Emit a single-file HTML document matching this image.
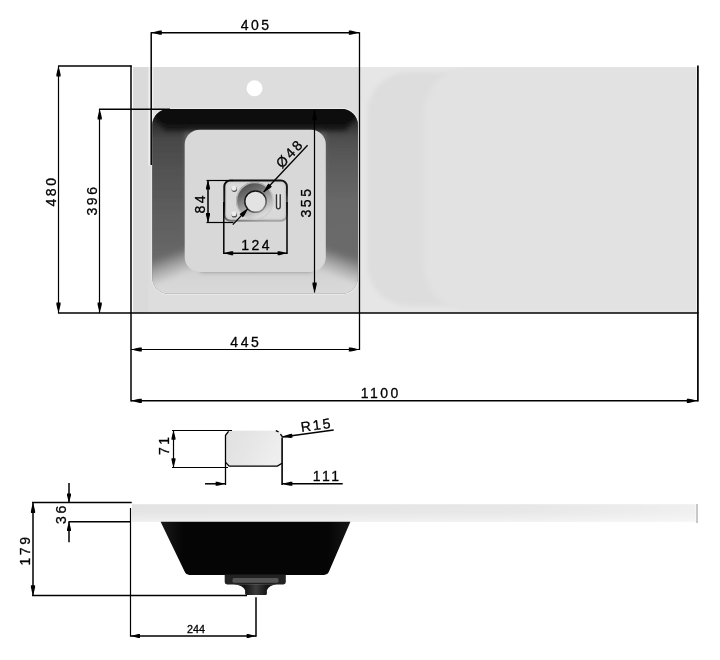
<!DOCTYPE html>
<html><head><meta charset="utf-8"><title>drawing</title>
<style>
html,body{margin:0;padding:0;background:#fff;}
body{width:720px;height:660px;overflow:hidden;font-family:"Liberation Sans",sans-serif;}
svg{display:block;}
svg text{font-family:"Liberation Sans",sans-serif;fill:#000;stroke:#000;stroke-width:0.3px;}
</style></head><body>
<svg width="720" height="660" viewBox="0 0 720 660">
<defs>
<linearGradient id="gTop" x1="0" y1="0" x2="0" y2="1"><stop offset="0" stop-color="#040404"/><stop offset="1" stop-color="#141414"/></linearGradient>
<linearGradient id="gLeft" gradientUnits="userSpaceOnUse" x1="0" y1="110" x2="0" y2="294"><stop offset="0" stop-color="#121212"/><stop offset="0.08" stop-color="#2e2e2e"/><stop offset="0.16" stop-color="#484848"/><stop offset="0.31" stop-color="#515151"/><stop offset="0.45" stop-color="#585858"/><stop offset="0.8" stop-color="#686868"/><stop offset="1" stop-color="#6c6c6c"/></linearGradient>
<linearGradient id="gRight" gradientUnits="userSpaceOnUse" x1="0" y1="110" x2="0" y2="294"><stop offset="0" stop-color="#141414"/><stop offset="0.08" stop-color="#323232"/><stop offset="0.15" stop-color="#4e4e4e"/><stop offset="0.25" stop-color="#585858"/><stop offset="0.5" stop-color="#686868"/><stop offset="1" stop-color="#6e6e6e"/></linearGradient>
<linearGradient id="gBot" x1="0" y1="0" x2="0" y2="1"><stop offset="0" stop-color="#d2d2d2"/><stop offset="1" stop-color="#e2e2e2"/></linearGradient>
<linearGradient id="gSlabL" x1="0" y1="0" x2="1" y2="0"><stop offset="0" stop-color="#d9d9d9"/><stop offset="1" stop-color="#e1e1e1"/></linearGradient>
<linearGradient id="gSide" x1="0" y1="0" x2="1" y2="0"><stop offset="0" stop-color="#e3e3e3"/><stop offset="0.7" stop-color="#e7e7e7"/><stop offset="1" stop-color="#efefef"/></linearGradient>
<linearGradient id="gBasin" x1="0" y1="0" x2="1" y2="0"><stop offset="0" stop-color="#1a1a1a"/><stop offset="0.12" stop-color="#050505"/><stop offset="0.88" stop-color="#050505"/><stop offset="1" stop-color="#161616"/></linearGradient>
<linearGradient id="gRing" x1="0.25" y1="0" x2="0.75" y2="1"><stop offset="0" stop-color="#484848"/><stop offset="0.3" stop-color="#707070"/><stop offset="0.6" stop-color="#aaaaaa"/><stop offset="0.85" stop-color="#d6d6d6"/><stop offset="1" stop-color="#e6e6e6"/></linearGradient>
<linearGradient id="gHoleS" x1="0.15" y1="0" x2="0.85" y2="1"><stop offset="0" stop-color="#0c0c0c"/><stop offset="0.55" stop-color="#2a2a2a"/><stop offset="1" stop-color="#a0a0a0"/></linearGradient>
<linearGradient id="gPlateS" x1="0.35" y1="0" x2="0.65" y2="1"><stop offset="0" stop-color="#0c0c0c"/><stop offset="0.45" stop-color="#1e1e1e"/><stop offset="0.8" stop-color="#6a6a6a"/><stop offset="1" stop-color="#a4a4a4"/></linearGradient>
<linearGradient id="gFadeL" gradientUnits="userSpaceOnUse" x1="167" y1="254" x2="176" y2="279"><stop offset="0" stop-color="#d8d8d8" stop-opacity="0"/><stop offset="0.5" stop-color="#d8d8d8" stop-opacity="0.55"/><stop offset="1" stop-color="#d8d8d8" stop-opacity="1"/></linearGradient>
<linearGradient id="gFadeR" gradientUnits="userSpaceOnUse" x1="344" y1="254" x2="335" y2="279"><stop offset="0" stop-color="#dadada" stop-opacity="0"/><stop offset="0.5" stop-color="#dadada" stop-opacity="0.55"/><stop offset="1" stop-color="#dadada" stop-opacity="1"/></linearGradient>
<linearGradient id="gNeck" gradientUnits="userSpaceOnUse" x1="245" y1="0" x2="267" y2="0"><stop offset="0" stop-color="#141414"/><stop offset="0.5" stop-color="#3c3c3c"/><stop offset="1" stop-color="#141414"/></linearGradient>
<linearGradient id="gSmall" x1="0" y1="0" x2="1" y2="0.3"><stop offset="0" stop-color="#e0e0e0"/><stop offset="0.5" stop-color="#e6e6e6"/><stop offset="1" stop-color="#eeeeee"/></linearGradient>
<linearGradient id="gSideV" x1="0" y1="0" x2="0" y2="1"><stop offset="0" stop-color="#fff" stop-opacity="0"/><stop offset="0.45" stop-color="#fff" stop-opacity="0.05"/><stop offset="1" stop-color="#fff" stop-opacity="0.45"/></linearGradient>
<clipPath id="cSlabR"><rect x="360" y="67" width="336.2" height="245.6"/></clipPath>
<clipPath id="cOuter"><rect x="152.3" y="109" width="205.6" height="184.8" rx="16" ry="16"/></clipPath>
<filter id="blur" x="-10%" y="-10%" width="120%" height="120%"><feGaussianBlur stdDeviation="2.6"/></filter>
</defs>
<rect width="720" height="660" fill="#fff"/>
<!-- TOP VIEW slab -->
<rect x="133.2" y="67" width="563" height="245.6" fill="#dddddd"/>
<rect x="360" y="67" width="336.2" height="245.6" fill="#e6e6e6"/>
<g clip-path="url(#cSlabR)">
<rect x="367" y="72" width="340" height="234" rx="42" fill="#dddddd" filter="url(#blur)"/>
<path d="M472 66 H705 V312 H472 A48 48 0 0 1 424 264 V114 A48 48 0 0 1 472 66 Z" fill="#e2e2e2" filter="url(#blur)"/>
</g>
<rect x="133.2" y="67" width="15" height="245.6" fill="#dadada"/>
<rect x="148.4" y="67" width="5" height="98.5" fill="#efefef"/>
<!-- tap hole -->
<circle cx="254.5" cy="88.3" r="8" fill="#fff"/>
<!-- basin -->
<rect x="151.3" y="108" width="207.8" height="186.8" rx="17" fill="#ebebeb"/>
<g clip-path="url(#cOuter)">
 <rect x="140" y="100" width="240" height="210" fill="#666"/>
 <g filter="url(#blur)">
  <polygon points="130,330 130,80 185,130 185,271" fill="url(#gLeft)"/>
  <polygon points="380,330 380,80 325.5,130 325.5,271" fill="url(#gRight)"/>
  <polygon points="130,330 130,200 200,200 200,330" fill="url(#gFadeL)"/>
  <polygon points="380,330 380,200 312,200 312,330" fill="url(#gFadeR)"/>
  <polygon points="130,90 380,90 346,131.5 165,131.5" fill="url(#gTop)"/>
  <polygon points="118,320 392,320 326,271 185,271" fill="url(#gBot)"/>
 </g>
</g>
<rect x="184.7" y="129.7" width="141.1" height="142.3" rx="15" fill="#d8d8d8"/>
<!-- drain plate -->
<rect x="224.3" y="180.5" width="62.6" height="40.3" rx="6" fill="#d3d3d3" stroke="url(#gPlateS)" stroke-width="2"/>
<rect x="227" y="183.4" width="57.2" height="34.6" rx="4.5" fill="#d9d9d9"/>
<circle cx="254.8" cy="200.9" r="18.8" fill="url(#gRing)"/>
<circle cx="254.8" cy="200.9" r="18.2" fill="none" stroke="#c9c9c9" stroke-width="1.2" opacity="0.8"/>
<circle cx="255.5" cy="201.6" r="10.7" fill="#e3e3e3" stroke="url(#gHoleS)" stroke-width="1.5"/>
<circle cx="234.3" cy="189.3" r="2.7" fill="#505050"/><circle cx="233.9" cy="188.2" r="2.5" fill="#ececec"/>
<circle cx="234.3" cy="214.9" r="2.7" fill="#505050"/><circle cx="233.9" cy="213.8" r="2.5" fill="#ececec"/>
<path d="M276.5 194.3 L276.5 206.6 Q276.5 208.9 278.3 208.9 Q280.2 208.9 280.2 206.6 L280.2 194.3" fill="#ececec" stroke="#333" stroke-width="1.4"/>
<!-- small detail rect -->
<rect x="225.4" y="430.2" width="57" height="36.6" rx="5" fill="#f4f4f4"/>
<rect x="226.2" y="431.1" width="55.2" height="34.8" rx="4.5" fill="url(#gSmall)"/>
<path d="M225.6 435.2 L228.6 431.3 M225.6 462.4 L229.2 466.1 L277.4 466.1 L282 463.2 M275.8 430.6 L278.6 431.8 M280.4 434.2 L282.6 437" fill="none" stroke="#000" stroke-width="1.3"/>
<!-- SIDE VIEW -->
<rect x="132" y="504.2" width="563.6" height="17.6" fill="url(#gSide)"/>
<rect x="132" y="504.2" width="563.6" height="17.6" fill="url(#gSideV)"/>
<line x1="697" y1="504" x2="697" y2="523" stroke="#777" stroke-width="0.8"/>
<path d="M160.6 521.8 L350.4 521.8 L329 571.6 Q327.6 574.9 324 574.9 L189.4 574.9 Q186 574.9 184.6 571.6 Z" fill="url(#gBasin)"/>
<path d="M224.7 574.6 H285.8 V582 Q285.8 584.4 283.4 584.4 H227.1 Q224.7 584.4 224.7 582 Z" fill="#222"/>
<rect x="232.5" y="578" width="46" height="4.8" rx="1.5" fill="#555"/>
<path d="M233.5 584.2 Q243.2 585.2 245.1 590.2 V593.4 Q245.1 595 246.7 595 H265.3 Q266.9 595 266.9 593.4 V590.2 Q268.8 585.2 277 584.2 Z" fill="url(#gNeck)"/>
<!-- dimension lines -->
<g stroke="#000" fill="none" stroke-linecap="butt">
<line x1="131.00" y1="65.40" x2="131.00" y2="401.40" stroke-width="1.50"/>
<line x1="697.90" y1="65.60" x2="697.90" y2="401.40" stroke-width="1.70"/>
<line x1="58.00" y1="313.00" x2="698.50" y2="313.00" stroke-width="1.60"/>
<line x1="58.00" y1="66.00" x2="131.70" y2="66.00" stroke-width="1.50"/>
<line x1="58.50" y1="66.00" x2="58.50" y2="313.00" stroke-width="1.20"/>
<line x1="99.00" y1="109.20" x2="170.00" y2="109.20" stroke-width="1.50"/>
<line x1="99.50" y1="109.00" x2="99.50" y2="313.00" stroke-width="1.20"/>
<line x1="151.20" y1="32.30" x2="151.20" y2="165.00" stroke-width="1.50"/>
<line x1="359.50" y1="32.30" x2="359.50" y2="350.00" stroke-width="1.30"/>
<line x1="151.00" y1="32.80" x2="359.30" y2="32.80" stroke-width="1.50"/>
<line x1="131.00" y1="349.50" x2="359.30" y2="349.50" stroke-width="1.20"/>
<line x1="131.00" y1="400.80" x2="698.00" y2="400.80" stroke-width="1.50"/>
<line x1="314.50" y1="110.00" x2="314.50" y2="292.50" stroke-width="1.20"/>
<line x1="208.00" y1="180.30" x2="208.00" y2="222.40" stroke-width="1.50"/>
<line x1="206.50" y1="180.50" x2="233.00" y2="180.50" stroke-width="1.20"/>
<line x1="206.50" y1="222.50" x2="233.50" y2="222.50" stroke-width="1.20"/>
<line x1="223.80" y1="202.00" x2="223.80" y2="254.00" stroke-width="1.50"/>
<line x1="287.00" y1="202.00" x2="287.00" y2="254.00" stroke-width="1.50"/>
<line x1="223.80" y1="253.20" x2="287.00" y2="253.20" stroke-width="1.50"/>
<line x1="173.50" y1="430.40" x2="173.50" y2="467.60" stroke-width="1.20"/>
<line x1="172.00" y1="430.50" x2="232.00" y2="430.50" stroke-width="1.10"/>
<line x1="172.00" y1="467.50" x2="228.00" y2="467.50" stroke-width="1.10"/>
<line x1="225.50" y1="434.80" x2="225.50" y2="485.00" stroke-width="1.30"/>
<line x1="282.10" y1="437.50" x2="282.10" y2="485.00" stroke-width="1.60"/>
<line x1="205.00" y1="483.80" x2="225.00" y2="483.80" stroke-width="1.50"/>
<line x1="282.00" y1="483.80" x2="342.70" y2="483.80" stroke-width="1.50"/>
<line x1="282.40" y1="437.00" x2="333.70" y2="430.00" stroke-width="1.30"/>
<line x1="32.00" y1="502.50" x2="131.70" y2="502.50" stroke-width="1.30"/>
<line x1="32.00" y1="595.50" x2="247.00" y2="595.50" stroke-width="1.30"/>
<line x1="33.00" y1="502.70" x2="33.00" y2="595.50" stroke-width="1.50"/>
<line x1="69.00" y1="483.00" x2="69.00" y2="502.70" stroke-width="1.50"/>
<line x1="69.00" y1="521.80" x2="69.00" y2="542.30" stroke-width="1.50"/>
<line x1="68.50" y1="521.80" x2="131.00" y2="521.80" stroke-width="1.50"/>
<line x1="130.50" y1="508.00" x2="130.50" y2="636.70" stroke-width="1.20"/>
<line x1="256.00" y1="597.20" x2="256.00" y2="636.70" stroke-width="1.50"/>
<line x1="130.60" y1="636.00" x2="256.00" y2="636.00" stroke-width="1.50"/>
<line x1="232.80" y1="224.60" x2="247.74" y2="208.84" stroke-width="1.30"/>
<line x1="263.66" y1="191.96" x2="307.60" y2="145.30" stroke-width="1.30"/>
</g>
<g fill="#000" stroke="none">
<polygon points="58.5,66.5 59.7,70.5 60.6,74.5 60.6,76.5 56.4,76.5 56.4,74.5 57.3,70.5"/>
<polygon points="58.5,312.5 57.3,308.5 56.4,304.5 56.4,302.5 60.6,302.5 60.6,304.5 59.7,308.5"/>
<polygon points="99.7,109.5 100.9,113.5 101.8,117.5 101.8,119.5 97.6,119.5 97.6,117.5 98.5,113.5"/>
<polygon points="99.7,312.5 98.5,308.5 97.6,304.5 97.6,302.5 101.8,302.5 101.8,304.5 100.9,308.5"/>
<polygon points="151.8,32.6 155.8,31.4 159.8,30.5 161.8,30.5 161.8,34.7 159.8,34.7 155.8,33.8"/>
<polygon points="358.8,32.6 354.8,33.8 350.8,34.7 348.8,34.7 348.8,30.5 350.8,30.5 354.8,31.4"/>
<polygon points="131.8,349.5 135.8,348.3 139.8,347.4 141.8,347.4 141.8,351.6 139.8,351.6 135.8,350.7"/>
<polygon points="358.8,349.5 354.8,350.7 350.8,351.6 348.8,351.6 348.8,347.4 350.8,347.4 354.8,348.3"/>
<polygon points="131.8,400.8 135.8,399.6 139.8,398.7 141.8,398.7 141.8,402.9 139.8,402.9 135.8,402.0"/>
<polygon points="696.8,400.8 692.8,402.0 688.8,402.9 686.8,402.9 686.8,398.7 688.8,398.7 692.8,399.6"/>
<polygon points="314.6,110.3 315.8,114.3 316.7,118.3 316.7,120.3 312.5,120.3 312.5,118.3 313.4,114.3"/>
<polygon points="314.6,292.5 313.4,288.5 312.5,284.5 312.5,282.5 316.7,282.5 316.7,284.5 315.8,288.5"/>
<polygon points="208.0,180.6 209.1,184.2 210.0,187.8 210.0,189.6 206.0,189.6 206.0,187.8 206.9,184.2"/>
<polygon points="208.0,222.1 206.9,218.5 206.0,214.9 206.0,213.1 210.0,213.1 210.0,214.9 209.1,218.5"/>
<polygon points="224.2,253.2 227.8,252.1 231.4,251.2 233.2,251.2 233.2,255.2 231.4,255.2 227.8,254.3"/>
<polygon points="286.6,253.2 283.0,254.3 279.4,255.2 277.6,255.2 277.6,251.2 279.4,251.2 283.0,252.1"/>
<polygon points="173.5,430.7 174.6,434.3 175.5,437.9 175.5,439.7 171.5,439.7 171.5,437.9 172.4,434.3"/>
<polygon points="173.5,467.3 172.4,463.7 171.5,460.1 171.5,458.3 175.5,458.3 175.5,460.1 174.6,463.7"/>
<polygon points="224.6,483.8 221.0,484.9 217.4,485.8 215.6,485.8 215.6,481.8 217.4,481.8 221.0,482.7"/>
<polygon points="282.4,483.8 286.4,482.7 290.4,481.8 292.4,481.8 292.4,485.8 290.4,485.8 286.4,484.9"/>
<polygon points="33.0,503.0 34.2,507.0 35.1,511.0 35.1,513.0 30.9,513.0 30.9,511.0 31.8,507.0"/>
<polygon points="33.0,595.2 31.8,591.2 30.9,587.2 30.9,585.2 35.1,585.2 35.1,587.2 34.2,591.2"/>
<polygon points="69.0,502.4 67.9,498.8 67.0,495.2 67.0,493.4 71.0,493.4 71.0,495.2 70.1,498.8"/>
<polygon points="69.0,522.1 70.1,525.7 71.0,529.3 71.0,531.1 67.0,531.1 67.0,529.3 67.9,525.7"/>
<polygon points="131.0,636.0 134.6,634.9 138.2,634.0 140.0,634.0 140.0,638.0 138.2,638.0 134.6,637.1"/>
<polygon points="255.6,636.0 252.0,637.1 248.4,638.0 246.6,638.0 246.6,634.0 248.4,634.0 252.0,634.9"/>
<polygon points="247.7,208.8 246.0,212.4 244.1,215.9 242.8,217.3 239.6,214.2 240.9,212.9 244.2,210.8"/>
<polygon points="263.7,192.0 265.4,188.4 267.3,184.9 268.6,183.5 271.8,186.6 270.5,187.9 267.2,190.0"/>
<polygon points="282.4,437.0 286.2,435.3 290.1,433.9 292.0,433.7 292.6,437.6 290.6,437.9 286.5,437.6"/>
</g>
<g style="will-change:opacity" opacity="0.999">
<text x="256.2" y="30.0" font-size="14.00" letter-spacing="2.50" text-anchor="middle">405</text>
<text x="245.8" y="346.5" font-size="14.00" letter-spacing="2.50" text-anchor="middle">445</text>
<text x="380.7" y="398.0" font-size="14.00" letter-spacing="2.50" text-anchor="middle">1100</text>
<text x="256.7" y="249.9" font-size="14.00" letter-spacing="2.50" text-anchor="middle">124</text>
<text x="327.2" y="480.8" font-size="14.00" letter-spacing="2.50" text-anchor="middle">111</text>
<text x="56.0" y="191.0" font-size="14.00" letter-spacing="2.50" text-anchor="middle" transform="rotate(-90 56.0 191.0)">480</text>
<text x="97.3" y="200.0" font-size="14.00" letter-spacing="2.50" text-anchor="middle" transform="rotate(-90 97.3 200.0)">396</text>
<text x="311.3" y="202.0" font-size="14.00" letter-spacing="2.50" text-anchor="middle" transform="rotate(-90 311.3 202.0)">355</text>
<text x="204.8" y="203.2" font-size="14.00" letter-spacing="2.50" text-anchor="middle" transform="rotate(-90 204.8 203.2)">84</text>
<text x="169.0" y="444.7" font-size="14.00" letter-spacing="2.50" text-anchor="middle" transform="rotate(-90 169.0 444.7)">71</text>
<text x="65.8" y="513.6" font-size="14.00" letter-spacing="2.50" text-anchor="middle" transform="rotate(-90 65.8 513.6)">36</text>
<text x="30.4" y="550.0" font-size="14.00" letter-spacing="2.50" text-anchor="middle" transform="rotate(-90 30.4 550.0)">179</text>
<text x="196.0" y="632.7" font-size="10.80" letter-spacing="0.00" text-anchor="middle" stroke-width="0">244</text>
<text x="293.5" y="156.6" font-size="14.00" letter-spacing="2.40" text-anchor="middle" transform="rotate(-47 293.5 156.6)">&#216;48</text>
<text x="317.2" y="429.8" font-size="14.00" letter-spacing="2.00" text-anchor="middle" transform="rotate(-8 317.2 429.8)">R15</text>
</g>
</svg>
</body></html>
